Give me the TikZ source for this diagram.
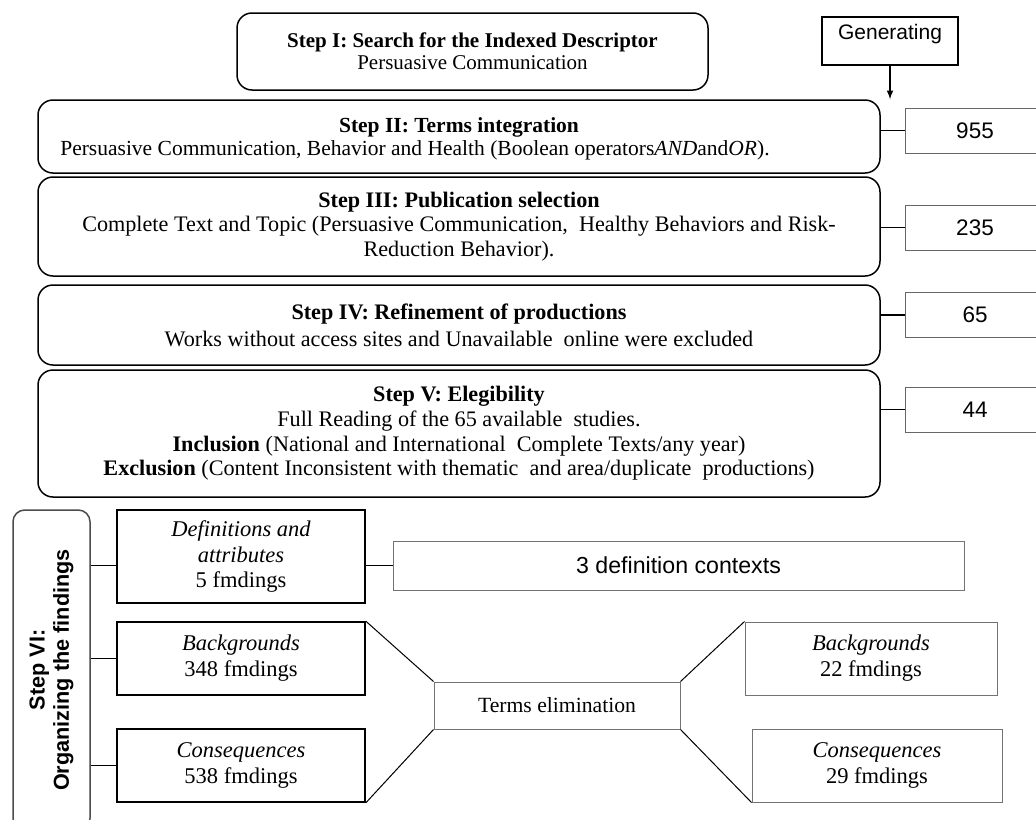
\documentclass[tikz,border=0pt]{standalone}
\usepackage{fontspec}
\setmainfont{Liberation Serif}
\newfontfamily\arialfont{Liberation Sans}
\usetikzlibrary{arrows.meta}
\tikzset{>=latex}
\tikzset{stepbox/.style = {draw, line width = 0.9pt, rounded corners = 9pt, align = center, inner sep = 0pt, font = \fontsize{13.3}{14.8}\selectfont}}
\tikzset{steptext/.style = {inner sep = 0pt, font = \fontsize{12.9}{14.4}\selectfont}}
\tikzset{numbox/.style = {draw = black!60, line width = 0.6pt, inner sep = 0pt, minimum width = 84pt, minimum height = 27pt, font = \arialfont\fontsize{13.5}{15}\selectfont}}
\tikzset{findbox/.style = {draw, line width = 1pt, align = center, inner sep = 0pt, font = \fontsize{13.5}{15.5}\selectfont}}
\tikzset{greybox/.style = {draw = black!55, line width = 0.6pt, align = center, inner sep = 0pt, font = \fontsize{13.5}{15.5}\selectfont}}

\begin{document}
\begin{tikzpicture}[x = 0.6pt, y = -0.6pt]
\useasboundingbox (0,0) rectangle (1036,819);

\node[stepbox, minimum width = 282.6pt, minimum height = 46.2pt, font = \fontsize{12.6}{13}\selectfont] (s1) at (472.5,51.5) {\textbf{Step I: Search for the Indexed Descriptor}\\Persuasive Communication};
\node[draw, line width = 0.8pt, minimum width = 81.6pt, minimum height = 28.8pt, inner sep = 0pt] (gen) at (890,41) {};
\node[inner sep = 0pt, font = \arialfont\fontsize{12.6}{14}\selectfont] (gentext) at (890,34) {Generating};

\node[stepbox, minimum width = 505.2pt, minimum height = 43.8pt] (s2) at (459,136.5) {};
\node[steptext, anchor = base] (s2title) at (459,132) {\textbf{Step II: Terms integration}};
\node[steptext, anchor = base west] (s2line) at (60,155) {Persuasive Communication, Behavior and Health (Boolean operators\textit{AND}and\textit{OR}).};
\draw[->, line width = 0.8pt] (gen.south) -- (gen.south |- s2.north);

\node[stepbox, minimum width = 505.2pt, minimum height = 59.4pt] (s3) at (459,226.5) {\textbf{Step III: Publication selection}\\Complete Text and Topic (Persuasive Communication,\ \ Healthy Behaviors and Risk-\\Reduction Behavior).};
\node[stepbox, minimum width = 505.2pt, minimum height = 48pt, font = \fontsize{13.3}{16.2}\selectfont] (s4) at (459,325) {\textbf{Step IV: Refinement of productions}\\Works without access sites and Unavailable\ \ online were excluded};
\node[stepbox, minimum width = 505.2pt, minimum height = 76.2pt] (s5) at (459,433.5) {\textbf{Step V: Elegibility}\\Full Reading of the 65 available\ \ studies.\\\textbf{Inclusion} (National and International\ \ Complete Texts/any year)\\\textbf{Exclusion} (Content Inconsistent with thematic\ \ and area/duplicate\ \ productions)};

\node[numbox] (n955) at (975,130.5) {955};
\node[numbox] (n235) at (975,227.5) {235};
\node[numbox] (n65) at (975,315) {65};
\node[numbox] (n44) at (975,409.5) {44};
\draw[line width = 1pt] (n955.west -| s2.east) -- (n955.west);
\draw[line width = 1pt] (n235.west -| s3.east) -- (n235.west);
\draw[line width = 1pt] (n65.west -| s4.east) -- (n65.west);
\draw[line width = 1pt] (n44.west -| s5.east) -- (n44.west);

\node[draw = black!70, line width = 0.9pt, rounded corners = 7pt, rotate = 90, minimum width = 192pt, minimum height = 46.2pt, align = center, inner sep = 0pt, font = \arialfont\bfseries\fontsize{13}{14.5}\selectfont] (s6) at (51.5,670) {Step VI:\\Organizing the findings};

\node[findbox, minimum width = 148.8pt, minimum height = 55.8pt] (defs) at (241,556.5) {\textit{Definitions and}\\\textit{attributes}\\5 fmdings};
\node[greybox, minimum width = 342.6pt, minimum height = 29.4pt, font = \arialfont\fontsize{13.9}{15}\selectfont] (ctx) at (678.5,565.5) {3 definition contexts};
\node[findbox, minimum width = 148.8pt, minimum height = 43.8pt] (bgl) at (241,658.5) {\textit{Backgrounds}\\348 fmdings};
\node[findbox, minimum width = 148.8pt, minimum height = 43.8pt] (csl) at (241,765.5) {\textit{Consequences}\\538 fmdings};
\node[greybox, minimum width = 147.6pt, minimum height = 28.2pt, font = \fontsize{13}{14}\selectfont] (terms) at (557,705.5) {Terms elimination};
\node[greybox, minimum width = 151.2pt, minimum height = 43.8pt] (bgr) at (871,658.5) {\textit{Backgrounds}\\22 fmdings};
\node[greybox, minimum width = 150pt, minimum height = 43.8pt] (csr) at (877,765.5) {\textit{Consequences}\\29 fmdings};

\draw[line width = 0.8pt] (s6.south |- ctx.west) -- (defs.west |- ctx.west);
\draw[line width = 0.8pt] (s6.south |- bgl.west) -- (bgl.west);
\draw[line width = 0.8pt] (s6.south |- csl.west) -- (csl.west);
\draw[line width = 0.8pt] (defs.east |- ctx.west) -- (ctx.west);
\draw[line width = 0.6pt] (bgl.north east) -- (terms.north west);
\draw[line width = 0.6pt] (csl.south east) -- (terms.south west);
\draw[line width = 0.6pt] (terms.north east) -- (bgr.north west);
\draw[line width = 0.6pt] (terms.south east) -- (csr.south west);
\end{tikzpicture}
\end{document}
